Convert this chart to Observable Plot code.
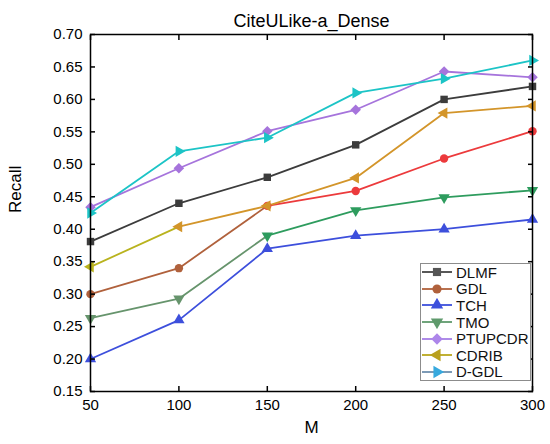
<!DOCTYPE html>
<html>
<head>
<meta charset="utf-8">
<script src="https://cdn.jsdelivr.net/npm/d3@7"></script>
<script src="https://cdn.jsdelivr.net/npm/@observablehq/plot@0.6"></script>
<style>
body { margin: 0; background: white; }
#chart { position: relative; width: 550px; height: 444px; font-family: "Liberation Sans", Arial, sans-serif; }
#legend { position: absolute; left: 420px; top: 263px; width: 111px; height: 118px; border: 1px solid #8c8c8c; background: white; box-sizing: border-box; }
.row { display: flex; align-items: center; height: 16.6px; font-size: 15px; color: #111; }
.row svg { margin-left: 1px; margin-right: 3px; }
</style>
</head>
<body>
<div id="chart"></div>
<script>
// values
const M = [50, 100, 150, 200, 250, 300];
const methods = ["DLMF", "GDL", "TCH", "TMO", "PTUPCDR", "CDRIB", "D-GDL"];
const DLMF = [0.381, 0.440, 0.480, 0.530, 0.600, 0.620];
const GDL = [0.300, 0.340, 0.436, 0.459, 0.509, 0.551];
const TCH = [0.200, 0.260, 0.370, 0.390, 0.400, 0.415];
const TMO = [0.263, 0.293, 0.390, 0.429, 0.449, 0.460];
const PTUPCDR = [0.434, 0.494, 0.551, 0.584, 0.643, 0.634];
const CDRIB = [0.342, 0.404, 0.436, 0.479, 0.579, 0.590];
const DGDL = [0.425, 0.520, 0.541, 0.610, 0.632, 0.660];
const yTicks = [0.15, 0.20, 0.25, 0.30, 0.35, 0.40, 0.45, 0.50, 0.55, 0.60, 0.65, 0.70];

// styles (the left part of some lines has another shade in the original)
const style = {
  DLMF:    {color: "#3c3c3c", legLine: "#444", legMark: "#555", symbol: "square", rotate: 0},
  GDL:     {color: "#ec3a3c", early: "#b0613c", until: 150, legLine: "#b0613c", legMark: "#b0613c", symbol: "circle", rotate: 0},
  TCH:     {color: "#3d4fdc", legLine: "#3d50dc", legMark: "#3d50dc", symbol: "triangle", rotate: 0},
  TMO:     {color: "#2e9c5e", early: "#66946c", until: 150, legLine: "#5f9a6c", legMark: "#5f9a6c", symbol: "triangle", rotate: 180},
  PTUPCDR: {color: "#a674dc", legLine: "#a57ee6", legMark: "#ad86ea", symbol: "square", rotate: 45},
  CDRIB:   {color: "#d3952a", early: "#b9b31e", until: 100, legLine: "#b9a81e", legMark: "#b9a01e", symbol: "triangle", rotate: -90},
  "D-GDL": {color: "#1cc4c6", legLine: "#6e8fae", legMark: "#37a9de", symbol: "triangle", rotate: 90}
};

const series = {DLMF, GDL, TCH, TMO, PTUPCDR, CDRIB, "D-GDL": DGDL};
const rows = methods.flatMap(m => M.map((x, i) => ({method: m, M: x, recall: series[m][i]})));
const segColor = d => {
  const s = style[d.method];
  return s.early && d.M < s.until ? s.early : s.color;
};

const chart = Plot.plot({
  width: 550,
  height: 444,
  marginLeft: 90,
  marginRight: 18,
  marginTop: 34,
  marginBottom: 53,
  x: {domain: [50, 300]},
  y: {domain: [0.15, 0.70]},
  color: {type: "identity"},
  symbol: {domain: methods, range: methods.map(m => style[m].symbol)},
  style: {fontFamily: "Liberation Sans, Arial, sans-serif", color: "#000", background: "white", overflow: "visible"},
  marks: [
    Plot.line(rows, {x: "M", y: "recall", z: "method", stroke: segColor, strokeWidth: 1.8}),
    Plot.dot(rows, {x: "M", y: "recall", symbol: "method", fill: segColor, r: 4.2,
      rotate: d => style[d.method].rotate}),
    Plot.frame({stroke: "#000", strokeWidth: 1.5}),
    Plot.axisX({ticks: M, tickSize: -5, tickPadding: 13, tickFormat: d => d, fontSize: 15, strokeWidth: 1.5, label: null}),
    Plot.axisX({anchor: "top", ticks: M, tickSize: -5, tickFormat: () => "", strokeWidth: 1.5, label: null}),
    Plot.axisY({ticks: yTicks, tickSize: -5, tickPadding: 13, tickFormat: d3.format(".2f"), fontSize: 15, strokeWidth: 1.5, label: null}),
    Plot.axisY({anchor: "right", ticks: yTicks, tickSize: -5, tickFormat: () => "", strokeWidth: 1.5, label: null}),
    Plot.text(["CiteULike-a_Dense"], {text: d => d, frameAnchor: "top", dy: -20, fontSize: 18}),
    Plot.text(["Recall"], {text: d => d, frameAnchor: "left", dx: -75, rotate: -90, fontSize: 17}),
    Plot.text(["M"], {text: d => d, frameAnchor: "bottom", dy: 41, fontSize: 17})
  ]
});

const root = d3.select("#chart");
root.append(() => chart);

// legend box in the lower right corner of the frame
const symbols = {square: d3.symbolSquare, circle: d3.symbolCircle, triangle: d3.symbolTriangle};
const legend = root.append("div").attr("id", "legend");
methods.forEach(m => {
  const s = style[m];
  const row = legend.append("div").attr("class", "row");
  const sw = row.append("svg").attr("width", 31).attr("height", 14);
  sw.append("line").attr("x1", 0).attr("x2", 30).attr("y1", 7).attr("y2", 7)
    .attr("stroke", s.legLine).attr("stroke-width", 1.8);
  sw.append("path")
    .attr("d", d3.symbol(symbols[s.symbol], Math.PI * 4.6 * 4.6)())
    .attr("transform", `translate(15,7) rotate(${s.rotate})`)
    .attr("fill", s.legMark);
  row.append("span").text(m);
});
</script>
</body>
</html>
